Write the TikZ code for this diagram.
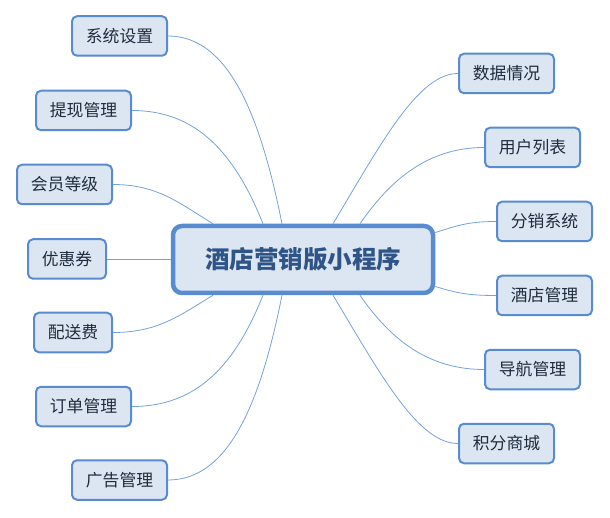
\documentclass[tikz,border=0pt]{standalone}
\usepackage{fontspec}
\newfontfamily\cjk{Noto Sans CJK SC}
\usetikzlibrary{calc}
\definecolor{leaffill}{HTML}{DCE6F2}
\definecolor{leafdraw}{HTML}{588BD0}
\definecolor{linkcol}{HTML}{74A2DC}
\definecolor{roottext}{HTML}{2F5588}
\definecolor{leaftext}{HTML}{1F2B3D}
\begin{document}
\begin{tikzpicture}[x=1pt,y=-1pt,
  leaf/.style={draw=leafdraw, fill=leaffill, line width=2pt, rounded corners=5pt,
    minimum height=39.5pt, inner sep=0pt, text=leaftext,
    font=\cjk\fontsize{16.8}{18}\selectfont},
  wide/.style={leaf, minimum width=95pt},
  narrow/.style={leaf, minimum width=78pt},
  rootbox/.style={draw=leafdraw, fill=leaffill, line width=4.5pt, rounded corners=9pt,
    minimum width=260pt, minimum height=67pt, inner sep=0pt, text=roottext,
    font=\cjk\bfseries\fontsize{24.5}{28}\selectfont},
  link/.style={draw=linkcol, line width=0.8pt}]
\useasboundingbox (0,0) rectangle (610,518);
\node[rootbox] (root) at (303,259.5) {酒店营销版小程序};
% left
\node[wide] (xt) at (119.5,36) {系统设置};
\node[wide] (tx) at (83.5,110.5) {提现管理};
\node[wide] (hy) at (64.5,184.5) {会员等级};
\node[narrow] (yh) at (67,259) {优惠券};
\node[narrow] (ps) at (73,332.5) {配送费};
\node[wide] (dd) at (83.5,406.5) {订单管理};
\node[wide] (gg) at (119.5,480) {广告管理};
% right
\node[wide] (sj) at (506.5,73.5) {数据情况};
\node[wide] (yl) at (532.5,147.5) {用户列表};
\node[wide] (fx) at (544.5,221.5) {分销系统};
\node[wide] (jd) at (544.5,295.5) {酒店管理};
\node[wide] (dh) at (532.5,369.5) {导航管理};
\node[wide] (jf) at (506.5,443.5) {积分商城};
% connectors left
\draw[link] (xt.east) .. controls +(60,0) and +(-22,-110) .. ($(root.north)+(-21,0)$);
\draw[link] (tx.east) .. controls +(65,0) and +(-28,-70) .. ($(root.north)+(-40,0)$);
\draw[link] (hy.east) .. controls +(45,0) and +(-33,-20) .. ($(root.north)+(-90,0)$);
\draw[link] (yh.east) -- (yh.east -| root.west);
\draw[link] (ps.east) .. controls +(45,0) and +(-33,20) .. ($(root.south)+(-90,0)$);
\draw[link] (dd.east) .. controls +(65,0) and +(-28,70) .. ($(root.south)+(-40,0)$);
\draw[link] (gg.east) .. controls +(60,0) and +(-22,110) .. ($(root.south)+(-21,0)$);
% connectors right
\draw[link] (sj.west) .. controls +(-40,0) and +(48,-80) .. ($(root.north)+(30,0)$);
\draw[link] (yl.west) .. controls +(-55,0) and +(31,-45) .. ($(root.north)+(57,0)$);
\draw[link] (fx.west) .. controls +(-30,0) and +(20,-6) .. ($(root.east)+(0,-27)$);
\draw[link] (jd.west) .. controls +(-30,0) and +(20,6) .. ($(root.east)+(0,27)$);
\draw[link] (dh.west) .. controls +(-55,0) and +(31,45) .. ($(root.south)+(57,0)$);
\draw[link] (jf.west) .. controls +(-40,0) and +(48,80) .. ($(root.south)+(30,0)$);
\end{tikzpicture}
\end{document}
